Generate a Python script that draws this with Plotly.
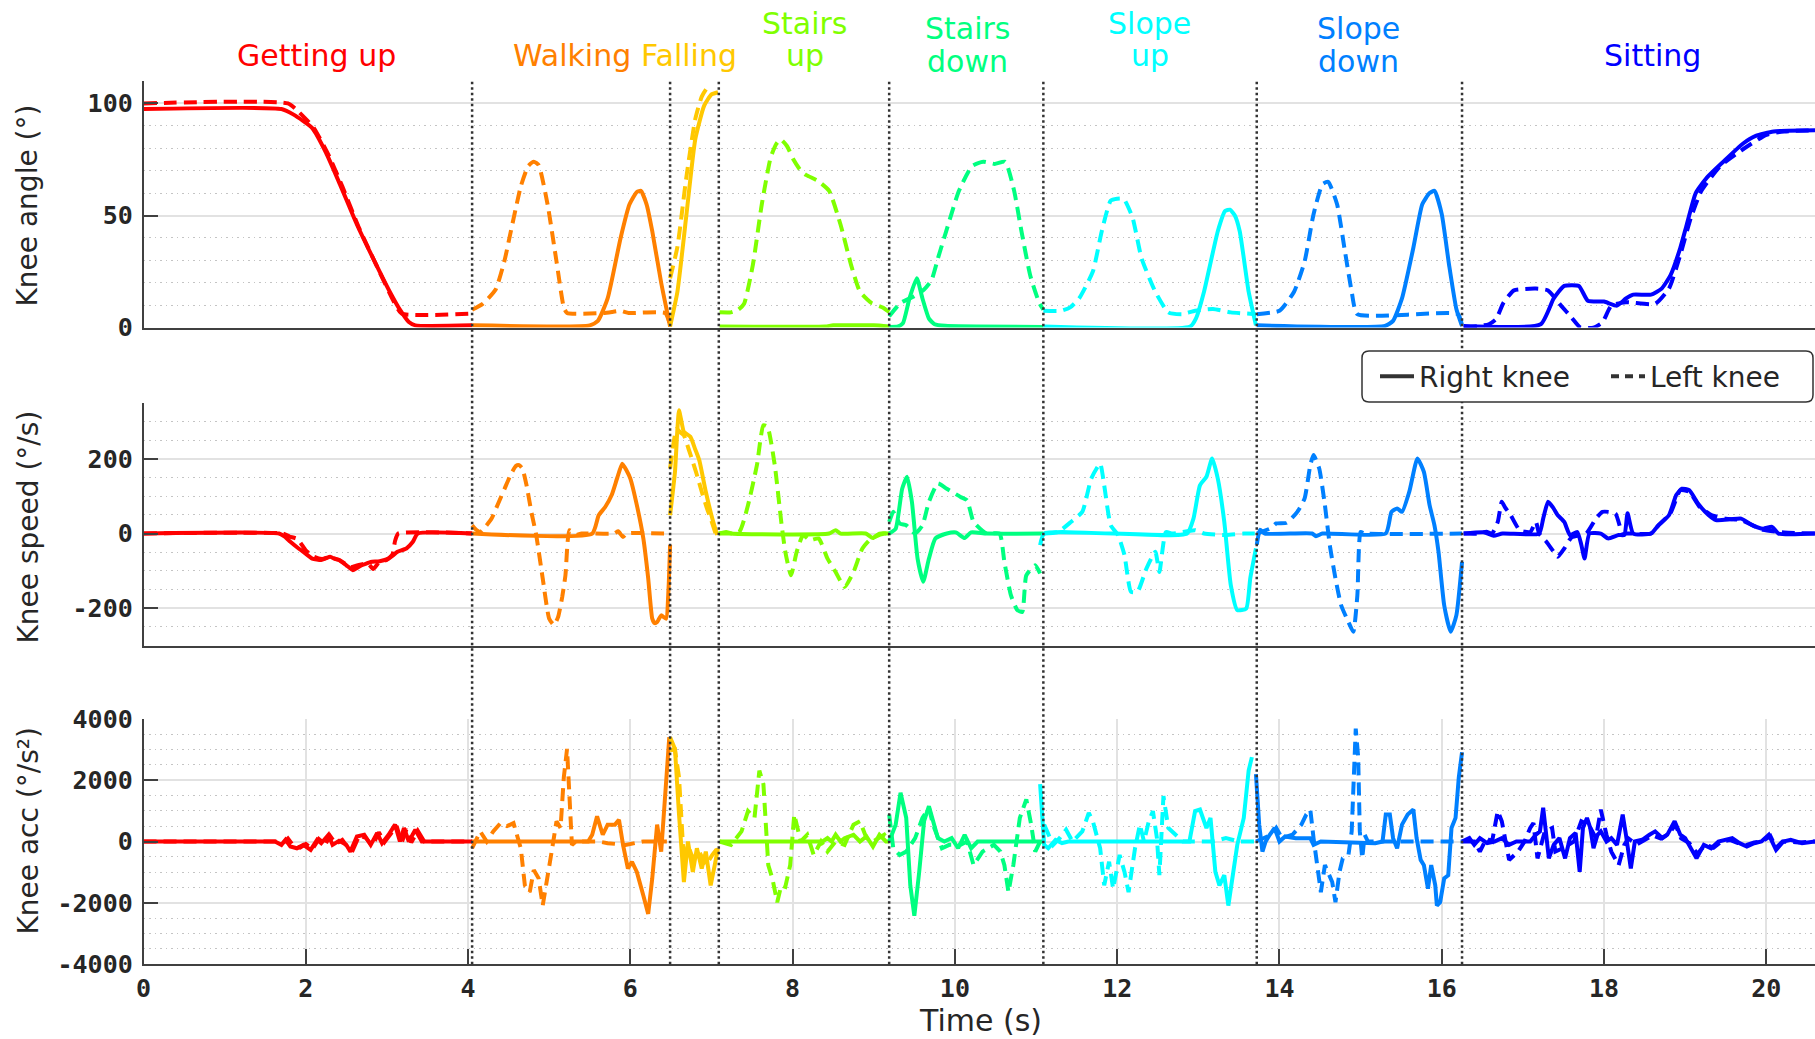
import plotly.graph_objects as go

# ---------------- categories / styling constants ----------------
ACTIVITIES = ["Getting up", "Walking", "Falling", "Stairs<br>up", "Stairs<br>down",
              "Slope<br>up", "Slope<br>down", "Sitting"]
COLORS = ["#FF0000", "#FF8000", "#FFC800", "#80FF00", "#00FF80", "#00FFFF", "#0080FF", "#0000FF"]
BOUNDARIES = [4.05, 6.49, 7.09, 9.19, 11.09, 13.72, 16.25]

X_TICKS = [0, 2, 4, 6, 8, 10, 12, 14, 16, 18, 20]
X_TICKTEXT = ["0", "2", "4", "6", "8", "10", "12", "14", "16", "18", "20"]
ANG_TICKS = [0, 50, 100]
ANG_TICKTEXT = ["0", "50", "100"]
SPD_TICKS = [-200, 0, 200]
SPD_TICKTEXT = ["-200", "0", "200"]
ACC_TICKS = [-4000, -2000, 0, 2000, 4000]
ACC_TICKTEXT = ["-4000", "-2000", "0", "2000", "4000"]

# ---------------- knee angle (deg) : (time, value) ----------------
ang_r_getup = [(0, 97.5), (1.70, 97.5), (1.85, 95), (2.08, 89), (2.25, 78), (2.42, 64), (2.63, 46),
               (2.91, 25), (3.05, 15), (3.16, 8), (3.27, 2.5), (3.35, 1), (4.05, 1)]
ang_l_getup = [(0, 100), (1.78, 100), (1.92, 96), (2.10, 89), (2.28, 77), (2.45, 63), (2.65, 45),
               (2.92, 24), (3.08, 12), (3.18, 6.3), (4.05, 6.3)]
ang_r_walk = [(4.05, 1), (5.50, 1), (5.60, 3), (5.72, 13), (5.88, 40), (5.99, 55), (6.08, 60.5),
              (6.13, 61), (6.20, 55), (6.27, 43), (6.38, 20), (6.49, 0.5)]
ang_l_walk = [(4.05, 8), (4.18, 10.6), (4.34, 17), (4.45, 30), (4.51, 40), (4.65, 63), (4.74, 72),
              (4.81, 74), (4.87, 72.5), (4.98, 55), (5.09, 29.5), (5.18, 9), (5.22, 6.5), (5.66, 6.5),
              (5.78, 7), (5.88, 7.5), (5.98, 6.5), (6.43, 6.5), (6.49, 1)]
ang_r_fall = [(6.49, 0.5), (6.58, 16), (6.69, 50), (6.80, 84), (6.91, 99), (7.00, 104), (7.08, 105)]
ang_l_fall = [(6.49, 22), (6.58, 36), (6.69, 67), (6.80, 93), (6.88, 103), (6.95, 107), (7.00, 107.5)]
ang_r_stup = [(7.10, 0.5), (8.40, 0.5), (8.50, 1), (9.00, 1), (9.19, 0.5)]
ang_l_stup = [(7.10, 6.8), (7.24, 6.8), (7.33, 8), (7.40, 10.5), (7.51, 28), (7.62, 55), (7.73, 76),
              (7.80, 82), (7.85, 84), (7.93, 81), (8.01, 75), (8.10, 70), (8.17, 68), (8.31, 65.5),
              (8.45, 61), (8.59, 46), (8.72, 28), (8.83, 16), (8.97, 11), (9.11, 9), (9.19, 7)]
ang_r_stdn = [(9.19, 0.3), (9.30, 0.5), (9.36, 2), (9.44, 13), (9.53, 22), (9.60, 13), (9.68, 4),
              (9.75, 1.5), (9.88, 0.8), (11.09, 0.3)]
ang_l_stdn = [(9.19, 5), (9.33, 11), (9.50, 14), (9.62, 17), (9.71, 21), (9.80, 32), (9.88, 41.5),
              (10.05, 61), (10.21, 72), (10.35, 74), (10.49, 73), (10.62, 74), (10.73, 61), (10.82, 43),
              (10.93, 23), (11.04, 11), (11.09, 8)]
ang_r_slup = [(11.09, 0.5), (12.90, 0.5), (12.97, 4), (13.07, 16), (13.24, 43), (13.33, 52),
              (13.39, 52.6), (13.45, 50), (13.51, 43), (13.62, 16), (13.71, 1)]
ang_l_slup = [(11.09, 7.5), (11.31, 7.5), (11.42, 9), (11.53, 13), (11.70, 25), (11.81, 43),
              (11.92, 56.6), (12.00, 57.5), (12.08, 57.4), (12.19, 49), (12.30, 31), (12.47, 16),
              (12.63, 6.8), (12.80, 6), (12.96, 7.5), (13.18, 8.3), (13.40, 6.8), (13.71, 6)]
ang_r_sldn = [(13.72, 1), (15.30, 0.7), (15.40, 3), (15.51, 13), (15.65, 35.6), (15.76, 55),
              (15.85, 60), (15.91, 61), (16.00, 50.6), (16.09, 28), (16.18, 8.3), (16.25, 0.7)]
ang_l_sldn = [(13.72, 6), (14.00, 7.5), (14.18, 16), (14.31, 29.5), (14.42, 50.6), (14.53, 64),
              (14.60, 65), (14.71, 55), (14.80, 35.6), (14.89, 16), (14.96, 6), (16.20, 6), (16.25, 1)]
ang_r_sit = [(16.27, 0.7), (17.22, 1.5), (17.38, 13), (17.51, 18.6), (17.69, 18.6), (17.80, 12),
             (18.00, 11.6), (18.16, 9.8), (18.27, 13), (18.36, 14.7), (18.58, 14.7), (18.71, 17.4),
             (18.82, 23.4), (18.94, 35.6), (19.02, 46), (19.13, 60), (19.27, 67), (19.47, 74),
             (19.71, 82), (19.87, 85.5), (20.09, 87.5), (20.60, 88)]
ang_l_sit = [(16.27, 0), (16.58, 1.5), (16.67, 3.8), (16.76, 11), (16.89, 16.6), (17.16, 17.4),
             (17.31, 16.6), (17.47, 9.8), (17.60, 4.5), (17.71, 0), (17.87, 0), (17.98, 2.3),
             (18.09, 9.8), (18.27, 11.3), (18.63, 10.6), (18.80, 17.4), (18.94, 32.5), (19.07, 49),
             (19.20, 61), (19.43, 72), (19.69, 79), (20.00, 86), (20.22, 87.5), (20.60, 88)]

# ---------------- knee speed (deg/s) ----------------
spd_r_getup = [(0, 0), (1.67, 0), (1.74, -8), (1.81, -22), (1.90, -38), (1.97, -49), (2.08, -67),
               (2.19, -71), (2.25, -66), (2.30, -62), (2.36, -68), (2.41, -71), (2.50, -85), (2.58, -98),
               (2.63, -92), (2.69, -85), (2.75, -80), (2.80, -76), (2.91, -74), (3.02, -67), (3.08, -58),
               (3.13, -49), (3.24, -40), (3.32, -22), (3.38, 0), (4.05, 0)]
spd_l_getup = [(0, 0), (1.72, 0), (1.80, -8), (1.90, -15), (2.00, -45), (2.10, -62), (2.20, -68),
               (2.30, -63), (2.40, -70), (2.48, -80), (2.55, -90), (2.62, -86), (2.70, -82), (2.76, -78),
               (2.83, -95), (2.90, -78), (3.00, -70), (3.07, -55), (3.10, -20), (3.14, 0), (4.05, 0)]
spd_r_walk = [(4.05, 0), (5.53, 0), (5.61, 49), (5.69, 71), (5.77, 103), (5.84, 150), (5.90, 187),
              (5.95, 170), (6.00, 147), (6.08, 76), (6.16, -13), (6.22, -120), (6.27, -228), (6.30, -240),
              (6.33, -237), (6.38, -219), (6.44, -228), (6.47, -150), (6.49, -30)]
spd_l_walk = [(4.05, 22), (4.10, 10), (4.15, 4), (4.22, 20), (4.29, 40), (4.37, 80), (4.45, 120),
              (4.52, 155), (4.59, 181), (4.63, 183), (4.67, 174), (4.72, 130), (4.78, 58), (4.84, -4),
              (4.92, -120), (5.00, -228), (5.06, -245), (5.11, -223), (5.16, -170), (5.20, -112),
              (5.25, 9), (5.33, -4), (5.40, 0), (5.80, 0), (5.85, 6), (5.91, -9), (5.96, 0), (6.45, 0)]
spd_r_fall = [(6.49, 49), (6.55, 165), (6.58, 280), (6.60, 330), (6.63, 300), (6.66, 272), (6.74, 259),
              (6.80, 225), (6.85, 196), (6.93, 112), (7.01, 40), (7.07, -4)]
spd_l_fall = [(6.49, 174), (6.57, 280), (6.62, 270), (6.66, 263), (6.72, 225), (6.77, 192), (6.83, 150),
              (6.88, 112), (6.94, 70), (6.99, 40), (7.07, -13)]
spd_r_stup = [(7.09, 0), (7.18, 4), (7.25, 0), (8.45, 0), (8.53, 9), (8.59, 0), (8.90, 0), (8.99, -12),
              (9.07, 0), (9.19, 0)]
spd_l_stup = [(7.09, 0), (7.34, 4), (7.45, 76), (7.56, 183), (7.64, 290), (7.69, 286), (7.78, 183),
              (7.86, 31), (7.91, -49), (7.98, -112), (8.05, -49), (8.13, -4), (8.21, -18), (8.32, -13),
              (8.43, -67), (8.53, -103), (8.64, -143), (8.75, -103), (8.86, -40), (8.97, -13), (9.13, 0),
              (9.19, 0)]
spd_r_stdn = [(9.19, 0), (9.27, 13), (9.35, 120), (9.41, 152), (9.47, 85), (9.54, -67), (9.61, -129),
              (9.68, -67), (9.76, -13), (9.90, 0), (10.01, 3), (10.12, -12), (10.20, 3), (10.39, 0),
              (11.09, 0)]
spd_l_stdn = [(9.19, 31), (9.24, 58), (9.32, 27), (9.40, 22), (9.51, 0), (9.60, 22), (9.68, 85),
              (9.79, 134), (9.90, 120), (10.07, 98), (10.15, 89), (10.23, 31), (10.39, 0), (10.55, 0),
              (10.61, -76), (10.69, -165), (10.77, -205), (10.83, -210), (10.88, -112), (10.99, -85),
              (11.05, -107)]
spd_r_slup = [(11.05, -31), (11.10, 0), (12.86, 0), (12.94, 40), (13.02, 129), (13.10, 152),
              (13.17, 201), (13.24, 147), (13.32, 31), (13.40, -138), (13.48, -205), (13.59, -201),
              (13.64, -120), (13.71, -40)]
spd_l_slup = [(11.10, 0), (11.27, 4), (11.43, 31), (11.57, 58), (11.68, 147), (11.79, 187), (11.84, 129),
              (11.92, 22), (12.01, -4), (12.09, -58), (12.17, -156), (12.25, -156), (12.36, -94),
              (12.47, -49), (12.52, -103), (12.60, 4), (12.68, 0), (12.96, 9), (13.07, 0), (13.34, -4),
              (13.56, 0), (13.71, 0)]
spd_r_sldn = [(13.72, -30), (13.76, 10), (13.82, 0), (14.40, 0), (14.45, -7), (14.53, 0), (15.31, 0),
              (15.38, 58), (15.45, 67), (15.51, 58), (15.60, 112), (15.70, 201), (15.78, 165),
              (15.85, 76), (15.91, 22), (15.96, -49), (16.03, -192), (16.11, -263), (16.18, -219),
              (16.25, -76)]
spd_l_sldn = [(13.72, 0), (13.90, 15), (13.96, 27), (14.09, 29), (14.22, 58), (14.31, 94), (14.38, 183),
              (14.42, 210), (14.49, 174), (14.56, 76), (14.62, -31), (14.69, -120), (14.76, -192),
              (14.85, -237), (14.91, -263), (14.96, -165), (15.00, 4), (15.05, 0), (16.25, 0)]
spd_r_sit = [(16.27, 0), (16.53, 3), (16.64, -6), (16.75, 0), (17.20, 0), (17.25, 40), (17.31, 85),
             (17.37, 70), (17.43, 49), (17.51, 31), (17.58, -4), (17.67, 4), (17.72, -30), (17.76, -67),
             (17.82, 0), (17.96, 0), (18.05, -13), (18.18, -4), (18.25, -4), (18.29, 54), (18.36, 0),
             (18.58, 0), (18.67, 22), (18.80, 49), (18.89, 103), (18.96, 120), (19.05, 116),
             (19.16, 80), (19.29, 49), (19.38, 36), (19.56, 38), (19.69, 40), (19.83, 22), (19.96, 13),
             (20.07, 18), (20.15, 0), (20.60, 0)]
spd_l_sit = [(16.27, 0), (16.45, 0), (16.55, 5), (16.62, 0), (16.69, 31), (16.74, 85), (16.78, 70),
             (16.85, 49), (16.96, 9), (17.09, 4), (17.16, 31), (17.20, 0), (17.29, -22), (17.38, -49),
             (17.43, -62), (17.51, -40), (17.60, -10), (17.78, 0), (17.90, 40), (17.98, 58),
             (18.14, 54), (18.23, -4), (18.27, 0), (18.58, 0), (18.67, 22), (18.82, 55), (18.94, 116),
             (19.05, 112), (19.18, 71), (19.33, 49), (19.50, 40), (19.69, 36), (19.85, 20),
             (19.96, 10), (20.22, 3), (20.60, 0)]

# ---------------- knee acceleration (deg/s^2) ----------------
acc_r_getup = [(0, 0), (1.62, 0), (1.70, -110), (1.75, 55), (1.81, -165), (1.89, -220), (1.97, -110),
               (2.06, -275), (2.14, 55), (2.19, -55), (2.28, 220), (2.33, -110), (2.41, 22), (2.50, -110),
               (2.55, -330), (2.63, 165), (2.72, 220), (2.80, -110), (2.88, 275), (2.94, -55), (3.02, 220),
               (3.10, 550), (3.16, 0), (3.21, 440), (3.27, 0), (3.35, 385), (3.43, 0), (4.05, 0)]
acc_l_getup = [(0, 0), (1.65, 0), (1.72, -50), (1.78, 100), (1.85, -150), (1.93, -200), (2.00, -80),
               (2.08, -250), (2.16, 80), (2.24, -100), (2.30, 180), (2.37, -80), (2.45, 50), (2.52, -200),
               (2.58, -280), (2.66, 200), (2.74, 120), (2.82, -150), (2.90, 300), (2.97, -20), (3.05, 260),
               (3.12, 500), (3.18, -50), (3.24, 400), (3.30, -30), (3.38, 350), (3.46, 0), (4.05, 0)]
acc_r_walk = [(4.05, 0), (5.48, 0), (5.53, 220), (5.59, 820), (5.66, 220), (5.72, 550), (5.81, 550),
              (5.86, 710), (5.91, -110), (5.97, -880), (6.02, -660), (6.08, -990), (6.16, -1760),
              (6.22, -2360), (6.27, -1200), (6.33, 550), (6.38, -330), (6.44, 2090), (6.48, 3400)]
acc_l_walk = [(4.05, -220), (4.15, 330), (4.23, 0), (4.31, 330), (4.40, 600), (4.48, 500), (4.56, 600),
              (4.65, -220), (4.70, -1430), (4.76, -1650), (4.81, -930), (4.87, -1200), (4.92, -2090),
              (4.98, -1200), (5.03, -330), (5.09, 660), (5.14, 440), (5.18, 2090), (5.22, 3020),
              (5.28, -110), (5.33, 0), (5.61, 0), (5.72, -55), (5.94, -110), (6.16, 0), (6.45, 0)]
acc_r_fall = [(6.49, 3400), (6.55, 3020), (6.60, 880), (6.66, -1320), (6.71, 0), (6.77, -990),
              (6.82, -220), (6.88, -880), (6.93, -330), (6.99, -1430), (7.04, -770), (7.08, -220)]
acc_l_fall = [(6.49, 2970), (6.55, 3000), (6.60, 2090), (6.66, -660), (6.71, -110), (6.77, -550),
              (6.85, -330), (6.93, -770), (7.01, -440), (7.08, -200)]
acc_r_stup = [(7.10, 0), (8.37, 0), (8.43, 110), (8.48, 0), (8.53, 220), (8.59, 0), (8.64, 110),
              (8.75, 220), (8.83, 0), (8.91, 165), (8.99, -165), (9.07, 220), (9.15, 0), (9.19, 0)]
acc_l_stup = [(7.10, 0), (7.24, -110), (7.37, 330), (7.45, 990), (7.53, 770), (7.59, 2310), (7.64, 1870),
              (7.67, 770), (7.70, -770), (7.75, -1200), (7.81, -1980), (7.86, -1430), (7.91, -1480),
              (7.97, -770), (8.02, 880), (8.10, 0), (8.18, 220), (8.26, -440), (8.35, 0), (8.43, -330),
              (8.53, 0), (8.64, -110), (8.75, 550), (8.83, 660), (8.91, 110), (8.99, 0), (9.13, 220),
              (9.19, 0)]
acc_r_stdn = [(9.19, 0), (9.27, 550), (9.33, 1590), (9.40, 770), (9.45, -1430), (9.50, -2420),
              (9.56, -990), (9.62, 660), (9.68, 1150), (9.73, 660), (9.79, 110), (9.87, 0), (9.96, 110),
              (10.04, -220), (10.12, 220), (10.20, -220), (10.28, 0), (11.09, 0)]
acc_l_stdn = [(9.19, 880), (9.24, -220), (9.32, -440), (9.40, -330), (9.51, 110), (9.60, 770),
              (9.68, 1100), (9.73, 550), (9.84, -220), (9.93, -110), (10.07, -110), (10.15, 0),
              (10.23, -770), (10.34, -330), (10.48, -110), (10.56, -330), (10.61, -770), (10.66, -1650),
              (10.72, -770), (10.80, 770), (10.88, 1370), (10.94, 550), (10.99, -330), (11.05, 0)]
acc_r_slup = [(11.05, 1870), (11.10, -110), (11.15, -220), (11.24, 50), (11.32, -50), (11.40, 0),
              (12.89, 0), (12.96, 990), (13.02, 1040), (13.10, 440), (13.15, 770), (13.21, -990),
              (13.26, -1430), (13.32, -1100), (13.37, -2090), (13.42, -1200), (13.48, -110),
              (13.56, 770), (13.62, 2310), (13.66, 2750)]
acc_l_slup = [(11.10, 550), (11.21, -110), (11.29, 110), (11.37, 385), (11.45, 0), (11.57, 330),
              (11.65, 930), (11.70, 660), (11.79, -220), (11.84, -1430), (11.90, -660), (11.95, -1540),
              (12.03, -440), (12.09, -990), (12.14, -1650), (12.22, -220), (12.28, 550), (12.33, 0),
              (12.39, 660), (12.44, 990), (12.49, 110), (12.52, -1100), (12.57, 1480), (12.63, 440),
              (12.81, 0), (13.18, 0), (13.34, 110), (13.50, 0), (13.71, 0)]
acc_r_sldn = [(13.71, 2200), (13.75, 550), (13.79, -330), (13.83, 0), (13.88, 220), (13.94, 440),
              (14.00, 0), (14.07, 165), (14.20, 110), (14.38, 110), (14.42, -110), (14.51, 0),
              (15.18, -55), (15.27, 0), (15.31, 880), (15.36, 880), (15.40, 110), (15.45, -220),
              (15.51, 550), (15.58, 880), (15.65, 1040), (15.69, 110), (15.74, -600), (15.78, -770),
              (15.83, -1540), (15.87, -770), (15.92, -1430), (15.94, -2090), (15.98, -1980),
              (16.03, -1200), (16.08, -1100), (16.12, 440), (16.17, 770), (16.21, 2090), (16.25, 2910)]
acc_l_sldn = [(13.71, 0), (13.90, 220), (13.96, 440), (14.03, 110), (14.16, 220), (14.27, 550),
              (14.33, 880), (14.38, 1040), (14.42, 110), (14.47, -880), (14.51, -1650), (14.56, -770),
              (14.60, -990), (14.65, -1320), (14.69, -1980), (14.74, -990), (14.78, -550), (14.85, -440),
              (14.89, 330), (14.94, 3680), (14.97, 2750), (14.99, 330), (15.02, -550), (15.05, 220),
              (15.09, 0), (16.25, 0)]
acc_r_sit = [(16.25, 0), (16.34, 110), (16.40, -110), (16.47, 110), (16.56, -55), (16.65, 0), (16.74, 110),
             (16.83, -110), (16.92, 0), (17.09, 0), (17.16, 220), (17.21, 330), (17.25, 1100),
             (17.28, 440), (17.32, -550), (17.38, -110), (17.45, 110), (17.52, -550), (17.58, 110),
             (17.65, 275), (17.70, -990), (17.74, 440), (17.79, 770), (17.83, 440), (17.87, -220),
             (17.92, 220), (17.96, 330), (18.03, 0), (18.09, 110), (18.16, -110), (18.23, 880),
             (18.27, 220), (18.33, -880), (18.38, 0), (18.47, 55), (18.56, 220), (18.63, 330),
             (18.72, 110), (18.78, 220), (18.87, 660), (18.94, 220), (19.00, 110), (19.07, -220),
             (19.14, -550), (19.23, -110), (19.32, -220), (19.41, 0), (19.50, 55), (19.58, 110),
             (19.67, -55), (19.76, -165), (19.85, -55), (19.94, 0), (20.03, 220), (20.12, -275),
             (20.21, 0), (20.30, 55), (20.44, -55), (20.60, 0)]
acc_l_sit = [(16.25, 0), (16.40, 0), (16.47, -330), (16.55, 100), (16.62, 0), (16.69, 990), (16.74, 660),
             (16.79, 0), (16.83, -600), (16.94, -330), (17.02, 0), (17.09, 440), (17.13, 600),
             (17.18, -550), (17.27, 330), (17.36, 440), (17.40, -330), (17.49, -220), (17.63, 0),
             (17.72, 660), (17.81, 550), (17.90, 110), (17.96, 1040), (18.03, 220), (18.09, -330),
             (18.18, -770), (18.25, -110), (18.30, 100), (18.40, -100), (18.50, 50), (18.60, 200),
             (18.70, 100), (18.80, 250), (18.88, 550), (18.95, 100), (19.05, -50), (19.15, -400),
             (19.25, -100), (19.35, -200), (19.45, 0), (19.55, 50), (19.65, -50), (19.75, -120),
             (19.85, -30), (19.95, 0), (20.05, 180), (20.12, -200), (20.20, 0), (20.40, -30), (20.60, 0)]

ANG_R = [ang_r_getup, ang_r_walk, ang_r_fall, ang_r_stup, ang_r_stdn, ang_r_slup, ang_r_sldn, ang_r_sit]
ANG_L = [ang_l_getup, ang_l_walk, ang_l_fall, ang_l_stup, ang_l_stdn, ang_l_slup, ang_l_sldn, ang_l_sit]
SPD_R = [spd_r_getup, spd_r_walk, spd_r_fall, spd_r_stup, spd_r_stdn, spd_r_slup, spd_r_sldn, spd_r_sit]
SPD_L = [spd_l_getup, spd_l_walk, spd_l_fall, spd_l_stup, spd_l_stdn, spd_l_slup, spd_l_sldn, spd_l_sit]
ACC_R = [acc_r_getup, acc_r_walk, acc_r_fall, acc_r_stup, acc_r_stdn, acc_r_slup, acc_r_sldn, acc_r_sit]
ACC_L = [acc_l_getup, acc_l_walk, acc_l_fall, acc_l_stup, acc_l_stdn, acc_l_slup, acc_l_sldn, acc_l_sit]

# ---------------- layout (pixel geometry) ----------------
W, H = 1815, 1039
def PX(x):
    return x / W
def PY(y):
    return 1 - y / H

X_DOMAIN = [PX(143.5), 1.0]
DOM_ANG = [PY(327.6), PY(81)]
DOM_SPD = [PY(645.6), PY(402.8)]
DOM_ACC = [PY(964.2), PY(718.8)]
LABEL_X = [2.13, 5.28, 6.72, 8.15, 10.16, 12.40, 14.98, 18.60]
LABEL_LINE_Y = [[55.6], [55.6], [55.6], [23.1, 55.6], [28.9, 61.3], [23.1, 55.6], [28.9, 61.3], [55.6]]

LINE_W = 4
DASH = "13px,7px"
AXIS_COLOR = "#404040"
TEXT_COLOR = "#262626"
TICK_FONT = dict(family="DejaVu Sans Mono", size=25, color=TEXT_COLOR, weight="bold")
GRID_MAJOR = "#e2e2e2"
GRID_MINOR = "#c4c4c4"

fig = go.Figure()

panels = [("x", "y", ANG_R, ANG_L, "spline"),
          ("x2", "y2", SPD_R, SPD_L, "spline"),
          ("x3", "y3", ACC_R, ACC_L, "linear")]
for xa, ya, R, L, shp in panels:
    for i in range(len(ACTIVITIES)):
        for series, dash in ((R[i], "solid"), (L[i], DASH)):
            fig.add_trace(go.Scatter(
                x=[p[0] for p in series], y=[p[1] for p in series],
                xaxis=xa, yaxis=ya, mode="lines",
                line=dict(color=COLORS[i], width=LINE_W, dash=dash, shape=shp,
                          smoothing=0.5 if shp == "spline" else None),
                showlegend=False, hoverinfo="skip"))

# legend entries
fig.add_trace(go.Scatter(x=[None], y=[None], mode="lines", name="Right knee",
                         line=dict(color="#333333", width=LINE_W), xaxis="x", yaxis="y"))
fig.add_trace(go.Scatter(x=[None], y=[None], mode="lines", name="Left knee",
                         line=dict(color="#333333", width=LINE_W, dash="8px,6px"), xaxis="x", yaxis="y"))


def xaxis(anchor, show_labels):
    d = dict(domain=X_DOMAIN, range=[0, 20.6], anchor=anchor, zeroline=False,
             showline=True, linecolor=AXIS_COLOR, linewidth=1.5, mirror=False)
    if show_labels:
        d.update(showgrid=True, gridcolor=GRID_MAJOR, gridwidth=1.5,
                 tickmode="array", tickvals=X_TICKS, ticktext=X_TICKTEXT,
                 ticks="inside", ticklen=15, tickwidth=1.5, tickcolor=AXIS_COLOR,
                 showticklabels=True, tickfont=TICK_FONT, ticklabelstandoff=1)
    else:
        d.update(showgrid=False, ticks="", showticklabels=False)
    return d


def yaxis(dom, rng, tv, tt, minor_vals, anchor):
    return dict(domain=dom, range=rng, anchor=anchor, zeroline=False,
                tickmode="array", tickvals=tv, ticktext=tt,
                ticks="inside", ticklen=15, tickwidth=1.5, tickcolor=AXIS_COLOR,
                showline=True, linecolor=AXIS_COLOR, linewidth=1.5,
                showgrid=True, gridcolor=GRID_MAJOR, gridwidth=1.5,
                tickfont=TICK_FONT, ticklabelstandoff=4,
                minor=dict(tickmode="array", tickvals=minor_vals, showgrid=True,
                           gridcolor=GRID_MINOR, gridwidth=1, griddash="1.5px,4px", ticks=""))


ang_minor = [v for v in range(10, 111, 10) if v % 50]
spd_minor = [v for v in range(-250, 351, 50) if v % 200]
acc_minor = [v for v in range(-3500, 4000, 500) if v % 2000]

shapes = []
for b in BOUNDARIES:
    shapes.append(dict(type="line", xref="x", yref="paper", x0=b, x1=b,
                       y0=DOM_ACC[0], y1=DOM_ANG[1],
                       line=dict(color="#333333", width=2.5, dash="2.5px,3px"), layer="above"))

# rounded legend box
lx0, lx1, ly0, ly1, r = 1362, 1813, 351, 402, 7
path = (f"M {PX(lx0 + r)},{PY(ly0)} L {PX(lx1 - r)},{PY(ly0)} Q {PX(lx1)},{PY(ly0)} {PX(lx1)},{PY(ly0 + r)} "
        f"L {PX(lx1)},{PY(ly1 - r)} Q {PX(lx1)},{PY(ly1)} {PX(lx1 - r)},{PY(ly1)} "
        f"L {PX(lx0 + r)},{PY(ly1)} Q {PX(lx0)},{PY(ly1)} {PX(lx0)},{PY(ly1 - r)} "
        f"L {PX(lx0)},{PY(ly0 + r)} Q {PX(lx0)},{PY(ly0)} {PX(lx0 + r)},{PY(ly0)} Z")
shapes.append(dict(type="path", xref="paper", yref="paper", path=path,
                   fillcolor="white", line=dict(color="#333333", width=1.5), layer="above"))

annotations = []
for i, name in enumerate(ACTIVITIES):
    for line_txt, ly in zip(name.split("<br>"), LABEL_LINE_Y[i]):
        annotations.append(dict(text=line_txt, x=LABEL_X[i], y=PY(ly), xref="x", yref="paper",
                                showarrow=False, xanchor="center", yanchor="middle",
                                font=dict(family="DejaVu Sans", size=30, color=COLORS[i])))

title_font = dict(family="DejaVu Sans", size=28, color=TEXT_COLOR)
for txt, yc in (("Knee angle (°)", 206), ("Knee speed (°/s)", 527), ("Knee acc (°/s²)", 831)):
    annotations.append(dict(text=txt, x=PX(27.5), y=PY(yc), xref="paper", yref="paper",
                            showarrow=False, textangle=-90, xanchor="center", yanchor="middle",
                            font=title_font))
annotations.append(dict(text="Time (s)", x=PX(980), y=PY(1020), xref="paper", yref="paper",
                        showarrow=False, xanchor="center", yanchor="middle",
                        font=dict(family="DejaVu Sans", size=30, color=TEXT_COLOR)))

fig.update_layout(
    width=W, height=H,
    margin=dict(l=0, r=0, t=0, b=0, autoexpand=False),
    paper_bgcolor="white", plot_bgcolor="white",
    xaxis=xaxis("y", False),
    xaxis2=xaxis("y2", False),
    xaxis3=xaxis("y3", True),
    yaxis=yaxis(DOM_ANG, [0, 110], ANG_TICKS, ANG_TICKTEXT, ang_minor, "x"),
    yaxis2=yaxis(DOM_SPD, [-300, 350], SPD_TICKS, SPD_TICKTEXT, spd_minor, "x2"),
    yaxis3=yaxis(DOM_ACC, [-4000, 4000], ACC_TICKS, ACC_TICKTEXT, acc_minor, "x3"),
    shapes=shapes,
    annotations=annotations,
    showlegend=True,
    legend=dict(orientation="h", x=PX(1375), y=PY((ly0 + ly1) / 2),
                xanchor="left", yanchor="middle", bgcolor="rgba(0,0,0,0)", borderwidth=0,
                font=dict(family="DejaVu Sans", size=28, color=TEXT_COLOR), itemwidth=34,
                entrywidth=182, entrywidthmode="pixels"),
    hovermode=False,
)

fig.write_html("out.html", config={"displayModeBar": False},
               post_script="document.body.style.margin='0px';document.body.style.overflow='hidden';")
